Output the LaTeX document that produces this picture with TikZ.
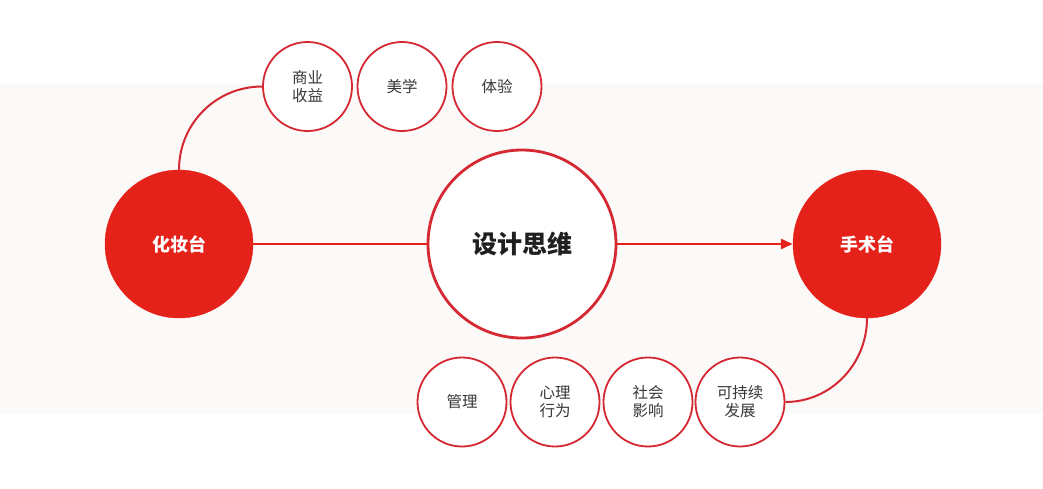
\documentclass[tikz,border=0pt]{standalone}
\usepackage{fontspec}
\newfontfamily\cjk{Noto Sans CJK SC}
\usetikzlibrary{arrows.meta}
\definecolor{redfill}{RGB}{228,34,26}
\definecolor{redline}{RGB}{212,40,50}
\definecolor{bandbg}{RGB}{252,249,249}
\definecolor{txtgray}{RGB}{55,55,55}
\tikzset{
  bigred/.style={circle, fill=redfill, draw=redfill, minimum size=148pt, inner sep=0pt,
    text=white, font=\cjk\bfseries\fontsize{18}{20}\selectfont},
  center/.style={circle, fill=white, draw=redline, line width=2.8pt, minimum size=188pt, inner sep=0pt,
    text=black!88, font=\cjk\bfseries\fontsize{25}{28}\selectfont},
  small/.style={circle, fill=white, draw=redline, line width=1.8pt, minimum size=89pt, inner sep=0pt,
    text=txtgray, font=\cjk\fontsize{15.5}{18}\selectfont, align=center},
  conn/.style={draw=redline, line width=2pt},
  mainline/.style={draw=redfill, line width=2.6pt}
}
\begin{document}
\begin{tikzpicture}[x=1pt, y=-1pt]
\useasboundingbox (0,0) rectangle (1043,488);
\fill[white] (0,0) rectangle (1043,488);
\fill[bandbg] (0,84) rectangle (1043,413);
% main nodes
\node[bigred] (makeup) at (179,244) {化妆台};
\node[center] (design) at (522,244) {设计思维};
\node[bigred] (surgery) at (867,244) {手术台};
% top small circles
\node[small] (biz) at (307.5,86.5) {商业\\收益};
\node[small] (aes) at (402,86.5) {美学};
\node[small] (exp) at (497,86.5) {体验};
% bottom small circles
\node[small] (mgmt) at (462,402) {管理};
\node[small] (psy) at (555,402) {心理\\行为};
\node[small] (soc) at (648,402) {社会\\影响};
\node[small] (sus) at (740,402) {可持续\\发展};
% connectors
\draw[mainline] (makeup.east) -- (design.west);
\draw[mainline, -{Triangle[length=12pt, width=10pt]}] (design.east) -- (surgery.west);
\draw[conn] (makeup.north) to[out=90, in=180] (biz.west);
\draw[conn] (sus.east) to[out=0, in=-90] (surgery.south);
\end{tikzpicture}
\end{document}
